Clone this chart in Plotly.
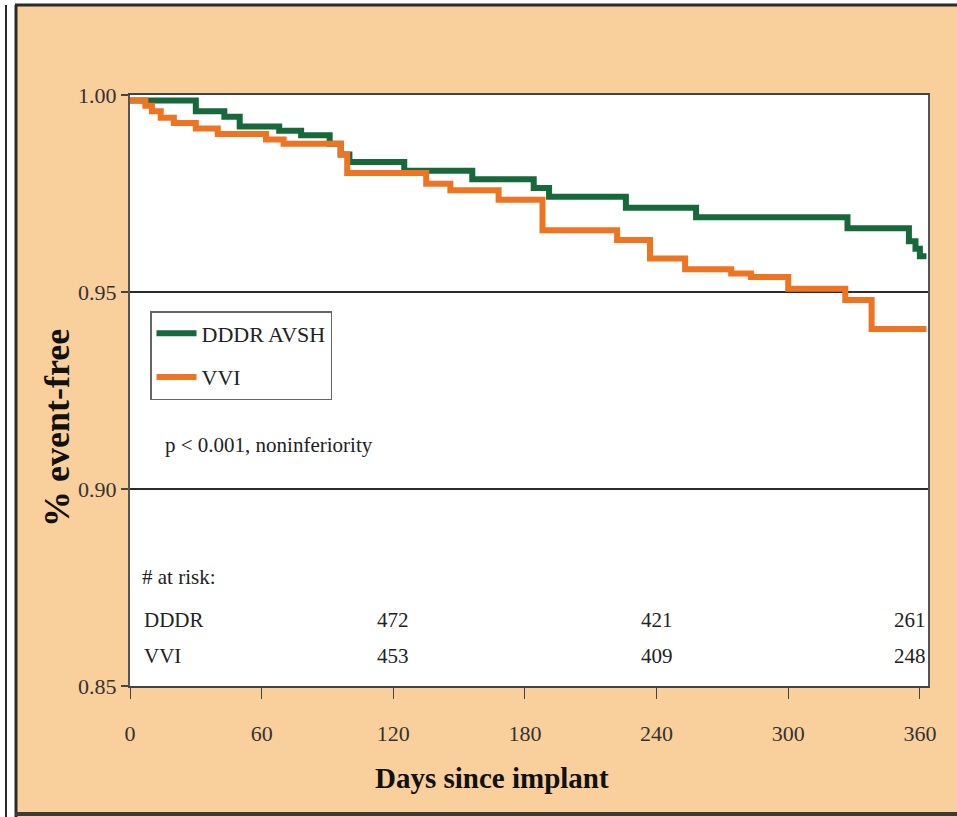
import plotly.graph_objects as go

# ---- data ----
days_dddr = [0, 30, 43, 50, 68, 78, 91, 96, 100, 125, 156, 184, 191, 226, 258, 327, 355, 358, 360, 363]
surv_dddr = [0.9986, 0.9959, 0.9945, 0.9920, 0.9909, 0.9898, 0.9876, 0.9849, 0.9830, 0.9808,
             0.9786, 0.9764, 0.9742, 0.9714, 0.9690, 0.9662, 0.9629, 0.9610, 0.9591, 0.9591]

days_vvi = [0, 7, 10, 14, 20, 30, 40, 62, 70, 96, 99, 135, 146, 168, 188, 222, 237, 253, 274,
            283, 300, 326, 338, 363]
surv_vvi = [0.9986, 0.9973, 0.9959, 0.9942, 0.9929, 0.9915, 0.9901, 0.9887, 0.9876, 0.9849,
            0.9802, 0.9775, 0.9758, 0.9734, 0.9657, 0.9632, 0.9585, 0.9558, 0.9547, 0.9538,
            0.9508, 0.9480, 0.9406, 0.9406]

x_ticks = [0, 60, 120, 180, 240, 300, 360]
y_ticks = [0.85, 0.90, 0.95, 1.00]
y_tick_labels = ["0.85", "0.90", "0.95", "1.00"]

risk_days = [120, 240, 360]
risk_dddr = [472, 421, 261]
risk_vvi = [453, 409, 248]

# ---- styling ----
PEACH = "#F9CF9C"
GREEN = "#17683A"
ORANGE = "#EE7421"
FONT = "Liberation Serif"
TXT = "#222222"

W, H = 957, 817
L, R, T, B = 130, 29, 95, 131
PW, PH = W - L - R, H - T - B


def px_x(px):
    return (px - L) / PW


def px_y(py):
    return (H - B - py) / PH


fig = go.Figure()
fig.add_trace(go.Scatter(x=days_dddr, y=surv_dddr, mode="lines", name="DDDR AVSH",
                         line=dict(color=GREEN, width=6, shape="hv"), legendgroup="a"))
fig.add_trace(go.Scatter(x=days_vvi, y=surv_vvi, mode="lines", name="VVI",
                         line=dict(color=ORANGE, width=6, shape="hv"), legendgroup="b"))

annotations = []
annotations.append(dict(x=px_x(163), y=px_y(445), xref="paper", yref="paper",
                        text="p &lt; 0.001, noninferiority", showarrow=False,
                        xanchor="left", yanchor="middle", font=dict(size=21, color=TXT, family=FONT)))
annotations.append(dict(x=px_x(140), y=px_y(577), xref="paper", yref="paper",
                        text="# at risk:", showarrow=False, xanchor="left", yanchor="middle",
                        font=dict(size=21, color=TXT, family=FONT)))
annotations.append(dict(x=px_x(142), y=px_y(620), xref="paper", yref="paper",
                        text="DDDR", showarrow=False, xanchor="left", yanchor="middle",
                        font=dict(size=21, color=TXT, family=FONT)))
annotations.append(dict(x=px_x(142), y=px_y(656), xref="paper", yref="paper",
                        text="VVI", showarrow=False, xanchor="left", yanchor="middle",
                        font=dict(size=21, color=TXT, family=FONT)))
for d, a, b in zip(risk_days, risk_dddr, risk_vvi):
    anchor = "right" if d >= 360 else "center"
    xv = 363.5 if d >= 360 else d
    annotations.append(dict(x=xv, y=px_y(620), xref="x", yref="paper", text=str(a),
                            showarrow=False, xanchor=anchor, yanchor="middle",
                            font=dict(size=21, color=TXT, family=FONT)))
    annotations.append(dict(x=xv, y=px_y(656), xref="x", yref="paper", text=str(b),
                            showarrow=False, xanchor=anchor, yanchor="middle",
                            font=dict(size=21, color=TXT, family=FONT)))

annotations.append(dict(x=px_x(492), y=px_y(778), xref="paper", yref="paper",
                        text="<b>Days since implant</b>", showarrow=False,
                        xanchor="center", yanchor="middle",
                        font=dict(size=29, color="#111111", family=FONT)))
annotations.append(dict(x=px_x(57), y=px_y(428), xref="paper", yref="paper",
                        text="<b>% event-free</b>", showarrow=False, textangle=-90,
                        xanchor="center", yanchor="middle",
                        font=dict(size=36, color="#111111", family=FONT)))

shapes = [
    # left white strip & neighbour panel edge
    dict(type="rect", xref="paper", yref="paper", x0=px_x(0), x1=px_x(16), y0=px_y(H), y1=px_y(0),
         fillcolor="white", line=dict(width=0), layer="below"),
    dict(type="rect", xref="paper", yref="paper", x0=px_x(0), x1=px_x(W), y0=px_y(5), y1=px_y(0),
         fillcolor="white", line=dict(width=0), layer="below"),
    dict(type="line", xref="paper", yref="paper", x0=px_x(6), x1=px_x(6), y0=px_y(H), y1=px_y(5),
         line=dict(color="#2a2a2a", width=2)),
    dict(type="line", xref="paper", yref="paper", x0=px_x(16), x1=px_x(16), y0=px_y(H), y1=px_y(5),
         line=dict(color="#2a2a2a", width=3)),
    dict(type="line", xref="paper", yref="paper", x0=px_x(15), x1=px_x(W), y0=px_y(5), y1=px_y(5),
         line=dict(color="#2a2a2a", width=3)),
    dict(type="line", xref="paper", yref="paper", x0=px_x(15), x1=px_x(W), y0=px_y(814), y1=px_y(814),
         line=dict(color="#3a3a3a", width=4)),
]

fig.update_layout(
    width=W, height=H,
    margin=dict(l=L, r=R, t=T, b=B, pad=0),
    paper_bgcolor=PEACH, plot_bgcolor="white",
    font=dict(family=FONT, color=TXT),
    showlegend=True,
    legend=dict(x=px_x(150), y=px_y(311), xanchor="left", yanchor="top",
                bgcolor="white", bordercolor="#666666", borderwidth=1.5,
                font=dict(size=22, color=TXT, family=FONT), tracegroupgap=12,
                itemwidth=40),
    annotations=annotations,
    shapes=shapes,
    xaxis=dict(range=[0, 363.7], tickvals=x_ticks, ticktext=[str(v) for v in x_ticks],
               showgrid=False, zeroline=False, showline=True, linecolor="#444444", linewidth=2,
               mirror=True, ticks="outside", ticklen=11, tickwidth=1, tickcolor="#444444",
               ticklabelstandoff=16, tickfont=dict(size=22, color="#333333", family=FONT)),
    yaxis=dict(range=[0.85, 1.0], tickvals=y_ticks, ticktext=y_tick_labels,
               showgrid=True, gridcolor="#2b2b2b", gridwidth=2, zeroline=False,
               showline=True, linecolor="#555555", linewidth=2, mirror=True,
               ticks="outside", ticklen=7, tickwidth=1.5, tickcolor="#444444",
               tickfont=dict(size=22, color="#333333", family=FONT)),
)

fig.write_html("out.html")
